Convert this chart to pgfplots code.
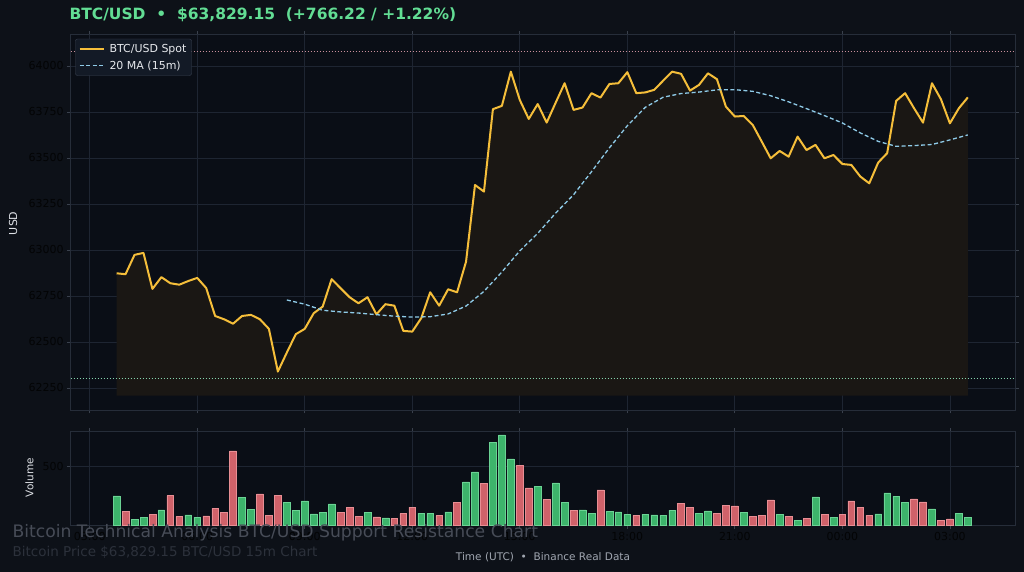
\documentclass[border=0pt]{standalone}
\usepackage{fontspec}
\setmainfont{DejaVu Sans}
\usepackage{pgfplots}
\usepackage{pgfplotstable}
\pgfplotsset{compat=1.18}

\definecolor{figbg}{HTML}{0D1118}
\definecolor{axbg}{HTML}{0A0E16}
\definecolor{gridc}{HTML}{1E2532}
\definecolor{spine}{HTML}{262D39}
\definecolor{tickmk}{HTML}{3A414D}
\definecolor{tickc}{HTML}{030405}
\definecolor{pricec}{HTML}{F5BE3A}
\definecolor{fillc}{HTML}{1A1714}
\definecolor{mac}{HTML}{8FCBE8}
\definecolor{upc}{HTML}{3DB46B}
\definecolor{upedge}{HTML}{6BD394}
\definecolor{dnc}{HTML}{D0626A}
\definecolor{dnedge}{HTML}{E88E94}
\definecolor{resc}{HTML}{C88F9B}
\definecolor{supc}{HTML}{86D4AE}
\definecolor{legbg}{HTML}{131A26}
\definecolor{legdraw}{HTML}{3B4352}
\definecolor{legtext}{HTML}{E6E8EC}
\definecolor{titlec}{HTML}{62DD94}
\definecolor{wmone}{HTML}{474C57}
\definecolor{wmtwo}{HTML}{2C313B}
\definecolor{xlabc}{HTML}{A0A6B0}
\definecolor{ylabc}{HTML}{DDE0E5}

\pgfplotstableread{
n p
1 62873
2 62868
3 62973
4 62984
5 62788
6 62852
7 62819
8 62811
9 62831
10 62848
11 62793
12 62641
13 62623
14 62599
15 62641
16 62647
17 62623
18 62571
19 62339
20 62442
21 62542
22 62571
23 62656
24 62692
25 62841
26 62792
27 62743
28 62710
29 62743
30 62650
31 62705
32 62697
33 62560
34 62556
35 62629
36 62770
37 62697
38 62786
39 62770
40 62936
41 63353
42 63317
43 63765
44 63783
45 63969
46 63815
47 63712
48 63793
49 63692
50 63800
51 63906
52 63761
53 63774
54 63852
55 63828
56 63902
57 63906
58 63966
59 63852
60 63856
61 63870
62 63920
63 63969
64 63957
65 63866
66 63897
67 63960
68 63928
69 63779
70 63725
71 63728
72 63679
73 63589
74 63498
75 63538
76 63507
77 63616
78 63543
79 63571
80 63498
81 63516
82 63467
83 63462
84 63399
85 63362
86 63475
87 63526
88 63810
89 63852
90 63770
91 63692
92 63906
93 63819
94 63688
95 63770
96 63829.15
}\price

\pgfplotstableread{
n m
20 62728
22 62705
24 62672
26 62663
28 62657
30 62648
32 62640
34 62635
36 62637
38 62652
40 62695
42 62775
44 62880
46 62995
48 63090
50 63200
52 63300
54 63425
56 63555
58 63675
60 63775
62 63830
64 63850
66 63858
68 63870
70 63871
72 63862
74 63838
76 63805
78 63768
80 63730
82 63690
84 63636
86 63590
88 63563
90 63567
92 63573
94 63598
96 63625
}\mavg

\pgfplotstableread{
n v
1 250
3 51
4 65
6 131
9 88
10 68
15 239
16 137
20 196
21 125
22 208
23 97
24 108
25 182
29 108
31 63
35 102
36 102
38 114
40 370
41 455
43 705
44 771
45 566
48 330
50 361
51 196
53 131
54 102
56 117
57 114
58 94
60 94
61 88
62 85
63 128
66 100
67 122
71 108
75 94
77 40
79 242
81 65
86 97
87 276
88 247
89 196
92 139
95 100
96 65
}\volup

\pgfplotstableread{
n v
2 117
5 91
7 253
8 74
11 80
12 145
13 108
14 634
17 267
18 85
19 253
26 108
27 156
28 77
30 71
32 57
33 100
34 156
37 82
39 193
42 356
46 512
47 319
49 219
52 125
55 301
59 85
64 185
65 154
68 102
69 173
70 165
72 74
73 85
74 216
76 74
78 60
80 94
82 94
83 208
84 154
85 85
90 225
91 199
93 40
94 54
}\voldn

\pgfplotsset{
  chart/.style={
    scale only axis,
    width=944.6pt,
    xmin=-4.12, xmax=101.3,
    axis background/.style={fill=axbg},
    axis line style={spine, line width=0.8pt},
    grid=major,
    grid style={gridc, line width=0.8pt},
    major tick style={tickmk, line width=0.8pt},
    tick align=outside,
    major tick length=3.5pt,
    xtick={-2,10,...,94},
    scaled ticks=false,
    xticklabel style={font=\fontsize{11}{13}\selectfont},
    yticklabel style={font=\fontsize{11}{13}\selectfont},
    yticklabel={\textcolor{tickc}{\pgfmathprintnumber{\tick}}},
    /pgf/number format/assume math mode=true,
    /pgf/number format/1000 sep={},
  }
}

\begin{document}
\begin{tikzpicture}
\useasboundingbox (0,0) rectangle (1024pt,572pt);
\fill[figbg] (0,0) rectangle (1024pt,572pt);

\begin{axis}[chart,
  at={(70.7pt,162pt)}, anchor=south west,
  height=375.7pt,
  ymin=62130, ymax=64172,
  ytick={62250,62500,...,64000},
  xticklabel=\empty,
  legend style={at={(0,1)}, anchor=north west, xshift=4.6pt, yshift=-4.5pt,
    fill=legbg, draw=legdraw, rounded corners=2pt, text=legtext,
    font=\fontsize{11}{13}\selectfont, cells={anchor=west},
    inner xsep=3pt, inner ysep=3pt, row sep=3pt},
  legend image code/.code={\draw[#1] (0pt,0pt) -- (24pt,0pt);},
]
\addplot[fill=fillc, draw=none, forget plot] table[x=n,y=p] {\price} |- (axis cs:1,62208) -- cycle;
\addplot[resc, line width=1pt, dash pattern=on 1pt off 2pt, forget plot] coordinates {(-4.12,64078) (101.3,64078)};
\addplot[supc, line width=1pt, dash pattern=on 1pt off 2pt, forget plot] coordinates {(-4.12,62303) (101.3,62303)};
\addplot[pricec, line width=2pt, line join=round] table[x=n,y=p] {\price};
\addlegendentry{\hspace*{3pt}BTC/USD Spot}
\addplot[mac, line width=1.3pt, dash pattern=on 4pt off 2.5pt] table[x=n,y=m] {\mavg};
\addlegendentry{\hspace*{3pt}20 MA (15m)}
\end{axis}

\begin{axis}[chart,
  at={(70.7pt,46.7pt)}, anchor=south west,
  height=93.6pt,
  ymin=0, ymax=798,
  ytick={500},
  xticklabels={\textcolor{tickc}{03:00},\textcolor{tickc}{06:00},\textcolor{tickc}{09:00},\textcolor{tickc}{12:00},\textcolor{tickc}{15:00},\textcolor{tickc}{18:00},\textcolor{tickc}{21:00},\textcolor{tickc}{00:00},\textcolor{tickc}{03:00}},
]
\addplot[ybar, bar width=0.75, bar shift=0pt, fill=upc, draw=upedge, line width=0.5pt] table[x=n,y=v] {\volup};
\addplot[ybar, bar width=0.75, bar shift=0pt, fill=dnc, draw=dnedge, line width=0.5pt] table[x=n,y=v] {\voldn};
\end{axis}

\node[anchor=west, text=titlec, font=\fontsize{15.5}{18}\selectfont\bfseries] at (66pt,557pt) {BTC/USD\ \ •\ \ \$63,829.15\ \ (+766.22 / +1.22\%)};
\node[rotate=90, text=ylabc, font=\fontsize{11}{13}\selectfont] at (13pt,348.7pt) {USD};
\node[rotate=90, text=ylabc, font=\fontsize{10.5}{12}\selectfont] at (29.5pt,94.2pt) {Volume};
\node[text=xlabc, font=\fontsize{10.5}{12}\selectfont] at (543pt,15pt) {Time (UTC)\ \ •\ \ Binance Real Data};
\node[anchor=west, text=wmone, font=\fontsize{17.2}{20}\selectfont] at (9pt,39pt) {Bitcoin Technical Analysis BTC/USD Support Resistance Chart};
\node[anchor=west, text=wmtwo, font=\fontsize{13.5}{16}\selectfont] at (9pt,20pt) {Bitcoin Price \$63,829.15 BTC/USD 15m Chart};
\end{tikzpicture}
\end{document}
